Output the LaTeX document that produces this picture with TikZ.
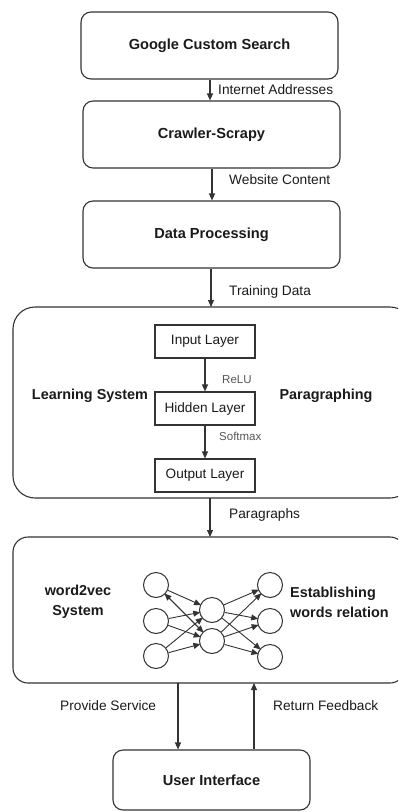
\documentclass[tikz,border=0pt]{standalone}
\usepackage{fontspec}
\setmainfont{Liberation Sans}
\usetikzlibrary{arrows.meta,calc}
\definecolor{ink}{HTML}{333333}
\definecolor{txt}{HTML}{1A1A1A}
\definecolor{soft}{HTML}{555555}
\begin{document}
\begin{tikzpicture}[x=1bp,y=-1bp,
  every node/.style={text=txt},
  procbox/.style={draw=ink,line width=1.1bp,rounded corners=10bp,
    minimum width=257bp,minimum height=67bp,inner sep=0pt,
    font=\bfseries\fontsize{14.6bp}{17bp}\selectfont},
  layerbox/.style={draw=ink,line width=1.1bp,minimum width=100bp,
    minimum height=33bp,inner sep=0pt,font=\fontsize{13.6bp}{16bp}\selectfont},
  flowlbl/.style={anchor=west,inner sep=0pt,font=\fontsize{13.7bp}{16bp}\selectfont},
  actlbl/.style={anchor=west,inner sep=0pt,text=soft,font=\fontsize{11.5bp}{14bp}\selectfont},
  boldlbl/.style={inner sep=0pt,font=\bfseries\fontsize{14.4bp}{20bp}\selectfont},
  neuron/.style={circle,draw=ink,line width=1bp,minimum size=25bp,inner sep=0pt},
  arr/.style={draw=ink,line width=1.1bp,-{Triangle[length=7bp,width=6bp]}},
  narr/.style={draw=ink,line width=0.9bp,-{Triangle[length=7bp,width=6bp]},shorten >=-1bp},
]
\useasboundingbox (0,0) rectangle (398,812);
\clip (0,0) rectangle (398,812);

% pipeline stages
\node[procbox] (google) at (209.5,45.5) {Google Custom Search};
\node[procbox] (crawler) at (211.5,134.5) {Crawler-Scrapy};
\node[procbox] (data) at (211.5,234.5) {Data Processing};

% learning system frame and its layers
\draw[ink,line width=1.1bp,rounded corners=22bp] (13,307) rectangle (412,498);
\coordinate (learntop) at (210,307);
\coordinate (learnbot) at (210,498);
\node[layerbox] (inl) at (205,341.5) {Input Layer};
\node[layerbox] (hid) at (205,408.5) {Hidden Layer};
\node[layerbox] (outl) at (205,475.5) {Output Layer};
\node[boldlbl] (lsys) at (90,396) {Learning System};
\node[boldlbl] (para) at (326,396) {Paragraphing};

% word2vec frame
\draw[ink,line width=1.1bp,rounded corners=15bp] (13,537) rectangle (405,683);
\coordinate (wtop) at (210,537);
\coordinate (wbot) at (210,683);
\node[boldlbl,align=center] (w2v) at (78,602) {word2vec\\System};
\node[boldlbl,align=left,anchor=west] (estab) at (290,602) {Establishing\\words relation};

% user interface
\node[procbox,minimum width=197bp,minimum height=60bp] (ui) at (211.5,780) {User Interface};

% flow arrows
\draw[arr] (google.south -| 210,0) -- (crawler.north -| 210,0);
\node[flowlbl] (l1) at (218,90) {Internet Addresses};
\draw[arr] (crawler.south -| 212,0) -- (data.north -| 212,0);
\node[flowlbl] (l2) at (229,180) {Website Content};
\draw[arr] (data.south -| 211,0) -- (learntop -| 211,0);
\node[flowlbl] (l3) at (229,292) {Training Data};
\draw[arr] (inl) -- (hid);
\node[actlbl] (relu) at (222,380) {ReLU};
\draw[arr] (hid) -- (outl);
\node[actlbl] (smax) at (219,436) {Softmax};
\draw[arr] (learnbot) -- (wtop);
\node[flowlbl] (l4) at (229,515) {Paragraphs};

\coordinate (psx) at (178,0);
\coordinate (rfx) at (254,0);
\draw[arr] (wbot -| psx) -- (ui.north -| psx);
\draw[arr] (ui.north -| rfx) -- (wbot -| rfx);
\node[flowlbl] (l5) at (60,706) {Provide Service};
\node[flowlbl] (l6) at (273,706) {Return Feedback};

% network graphic
\node[neuron] (a1) at (156,585) {};
\node[neuron] (a2) at (156,621) {};
\node[neuron] (a3) at (156,656) {};
\node[neuron] (b1) at (212,610) {};
\node[neuron] (b2) at (212,641) {};
\node[neuron] (c1) at (270,585) {};
\node[neuron] (c2) at (270,621) {};
\node[neuron] (c3) at (270,657) {};
\foreach \s in {a1,a2,a3}{
  \foreach \t in {b1,b2}{
    \draw[narr] (\s) -- (\t);
  }
}
\foreach \s in {b1,b2}{
  \foreach \t in {c1,c2,c3}{
    \draw[narr] (\s) -- (\t);
  }
}
\draw[narr] (b2) -- (a1);
\end{tikzpicture}
\end{document}
